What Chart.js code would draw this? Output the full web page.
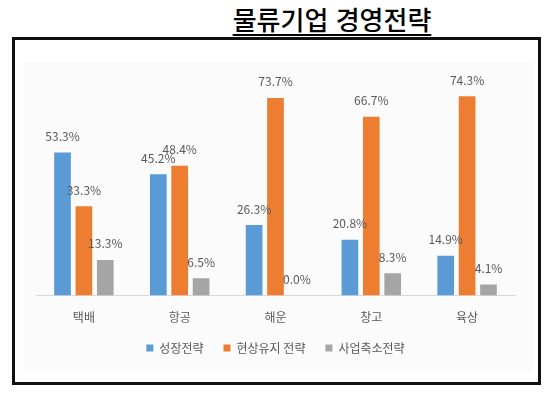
<!DOCTYPE html>
<html lang="ko">
<head>
  <meta charset="UTF-8" />
  <title>물류기업 경영전략</title>
  <script src="https://cdn.jsdelivr.net/npm/chart.js"></script>
  <style>
    body {
      margin: 0;
      background: #fff;
      width: 550px;
      height: 394px;
      position: relative;
      overflow: hidden;
      font-family: "Noto Sans CJK KR", sans-serif;
    }
    #titulo {
      position: absolute;
      left: 200px;
      width: 264px;
      top: 2px;
      text-align: center;
      font-size: 26px;
      font-weight: 500;
      color: #000;
      text-decoration: underline;
      text-decoration-thickness: 2px;
      text-underline-offset: 4px;
      line-height: 34px;
    }
    #marco {
      position: absolute;
      left: 12px;
      top: 37px;
      width: 523px;
      height: 342px;
      border: 3px solid #111;
    }
    #fondo {
      position: absolute;
      left: 8px;
      top: 22px;
      width: 510px;
      height: 310px;
      background: #fbfbfb;
    }
    #caja {
      position: absolute;
      left: 0;
      top: 0;
      width: 523px;
      height: 342px;
    }
  </style>
</head>
<body>
  <div id="titulo">물류기업 경영전략</div>
  <div id="marco">
    <div id="fondo"></div>
    <div id="caja"><canvas id="grafica"></canvas></div>
  </div>

  <script>
    const categorias = ['택배', '항공', '해운', '창고', '육상'];
    const seriesNombres = ['성장전략', '현상유지 전략', '사업축소전략'];
    const crecimiento = [53.3, 45.2, 26.3, 20.8, 14.9];
    const mantenimiento = [33.3, 48.4, 73.7, 66.7, 74.3];
    const reduccion = [13.3, 6.5, 0.0, 8.3, 4.1];
    const colores = ['#5B9BD5', '#ED7D31', '#A5A5A5'];

    const fuente = '"Noto Sans CJK KR", "Open Sans", sans-serif';

    // etiquetas de valor encima de cada barra
    const etiquetas = {
      id: 'etiquetas',
      afterDatasetsDraw(chart) {
        const ctx = chart.ctx;
        ctx.save();
        ctx.font = '12px ' + fuente;
        ctx.fillStyle = '#595959';
        ctx.textAlign = 'center';
        ctx.textBaseline = 'middle';
        chart.data.datasets.forEach((ds, i) => {
          chart.getDatasetMeta(i).data.forEach((bar, j) => {
            ctx.fillText(ds.data[j].toFixed(1) + '%', bar.x, bar.y - 16);
          });
        });
        ctx.restore();
      }
    };

    // sube un poco la leyenda hacia las etiquetas del eje
    const subirLeyenda = {
      id: 'subirLeyenda',
      afterLayout(chart) {
        const l = chart.legend;
        if (l) {
          l.top -= 18;
          l.bottom -= 18;
        }
      }
    };

    const datos = [crecimiento, mantenimiento, reduccion];

    new Chart(document.getElementById('grafica'), {
      type: 'bar',
      data: {
        labels: categorias,
        datasets: seriesNombres.map((nombre, i) => ({
          label: nombre,
          data: datos[i],
          backgroundColor: colores[i],
          categoryPercentage: 0.67,
          barPercentage: 0.78
        }))
      },
      options: {
        responsive: true,
        maintainAspectRatio: false,
        animation: false,
        layout: {
          padding: { top: 41, left: 21, right: 23, bottom: 0 }
        },
        scales: {
          x: {
            grid: { display: false, drawTicks: false },
            border: { color: '#D9D9D9', width: 1 },
            ticks: {
              color: '#595959',
              padding: 15,
              font: { size: 12, family: fuente }
            }
          },
          y: {
            display: false,
            min: 0,
            max: 80
          }
        },
        plugins: {
          legend: {
            position: 'bottom',
            labels: {
              boxWidth: 7,
              boxHeight: 7,
              padding: 20,
              color: '#595959',
              font: { size: 12, family: fuente }
            }
          },
          tooltip: { enabled: false }
        }
      },
      plugins: [etiquetas, subirLeyenda]
    });
  </script>
</body>
</html>
